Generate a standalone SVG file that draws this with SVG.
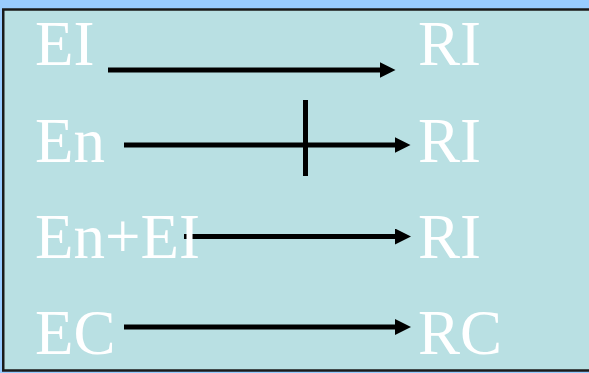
<svg xmlns="http://www.w3.org/2000/svg" width="589" height="373" viewBox="0 0 589 373">
  <style>
    .lbl { font-family: "Liberation Serif", "Times New Roman", serif; font-size: 63px; fill: #ffffff; }
    .edge { stroke: #000000; stroke-width: 5; fill: none; }
  </style>
  <defs>
    <marker id="arrow" viewBox="0 0 16 16" refX="8" refY="8" markerWidth="16" markerHeight="16" markerUnits="userSpaceOnUse" orient="auto">
      <path d="M0,0 L16,8 L0,16 z" fill="#000000"/>
    </marker>
  </defs>
  <rect x="0" y="0" width="589" height="373" fill="#99ccff"/>
  <rect x="3.25" y="9.5" width="600" height="361" fill="#b9e0e3" stroke="#1a1a1a" stroke-width="2.5"/>

  <g id="connectors">
    <line class="edge" x1="108" y1="70" x2="387.5" y2="70" marker-end="url(#arrow)"/>
    <line class="edge" x1="124" y1="145" x2="402.5" y2="145" marker-end="url(#arrow)"/>
    <line class="edge" x1="305.5" y1="100" x2="305.5" y2="176"/>
    <line class="edge" x1="184" y1="236.5" x2="403" y2="236.5" marker-end="url(#arrow)"/>
    <line class="edge" x1="124" y1="327" x2="403" y2="327" marker-end="url(#arrow)"/>
  </g>

  <g id="node-EI"><text class="lbl" x="35" y="65">EI</text></g>
  <g id="node-RI-1"><text class="lbl" x="418" y="65">RI</text></g>
  <g id="node-En"><text class="lbl" x="35" y="162">En</text></g>
  <g id="node-RI-2"><text class="lbl" x="418" y="162">RI</text></g>
  <g id="node-EnEI"><text class="lbl" x="35" y="258">En+EI</text></g>
  <g id="node-RI-3"><text class="lbl" x="418" y="258">RI</text></g>
  <g id="node-EC"><text class="lbl" x="35" y="354">EC</text></g>
  <g id="node-RC"><text class="lbl" x="418" y="354">RC</text></g>
</svg>
